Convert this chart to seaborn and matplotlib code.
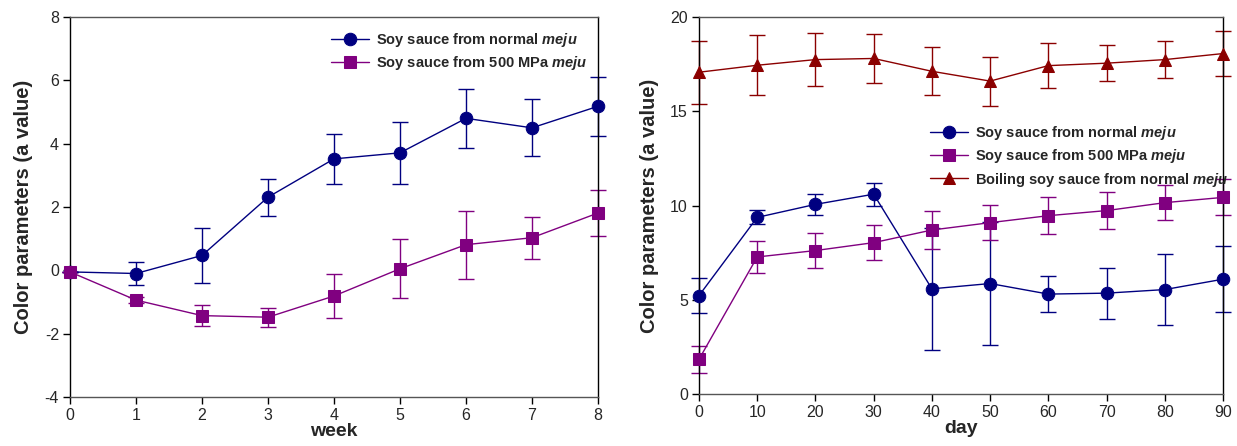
import seaborn as sns
import matplotlib.pyplot as plt
import numpy as np
import pandas as pd

# Soy sauce colour (a value) over fermentation weeks / storage days

weeks = [0, 1, 2, 3, 4, 5, 6, 7, 8]
wk_normal = [-0.05, -0.1, 0.47, 2.31, 3.52, 3.71, 4.8, 4.5, 5.18]
wk_normal_err = [0.0, 0.36, 0.87, 0.58, 0.8, 0.97, 0.94, 0.9, 0.94]
wk_mpa = [-0.05, -0.94, -1.43, -1.48, -0.81, 0.05, 0.81, 1.03, 1.81]
wk_mpa_err = [0.0, 0.1, 0.33, 0.3, 0.71, 0.93, 1.07, 0.66, 0.72]

days = [0, 10, 20, 30, 40, 50, 60, 70, 80, 90]
day_normal = [5.22, 9.37, 10.06, 10.6, 5.58, 5.86, 5.3, 5.35, 5.54, 6.09]
day_normal_err = [0.94, 0.37, 0.55, 0.61, 3.25, 3.28, 0.97, 1.35, 1.87, 1.75]
day_mpa = [1.84, 7.27, 7.61, 8.03, 8.7, 9.09, 9.46, 9.73, 10.15, 10.43]
day_mpa_err = [0.72, 0.85, 0.92, 0.92, 1.02, 0.93, 0.98, 0.97, 0.94, 0.95]
day_boil = [17.07, 17.44, 17.74, 17.8, 17.12, 16.6, 17.42, 17.55, 17.74, 18.06]
day_boil_err = [1.66, 1.6, 1.4, 1.28, 1.27, 1.3, 1.18, 0.95, 1.0, 1.19]

lbl_normal = r"Soy sauce from normal $\mathbfit{meju}$"
lbl_mpa = r"Soy sauce from 500 MPa $\mathbfit{meju}$"
lbl_boil = r"Boiling soy sauce from normal $\mathbfit{meju}$"

sns.set_theme(style="white")
plt.rcParams["font.family"] = ["Liberation Sans", "DejaVu Sans"]
plt.rcParams["mathtext.fontset"] = "custom"
plt.rcParams["mathtext.bfit"] = "Liberation Sans:bold:italic"
plt.rcParams["mathtext.it"] = "Liberation Sans:italic"
plt.rcParams["mathtext.rm"] = "Liberation Sans"
plt.rcParams["axes.unicode_minus"] = False

NAVY = "#000080"
PURPLE = "#800080"
DARKRED = "#8b0000"

fig = plt.figure(figsize=(12.37, 4.46), dpi=100)
ax1 = fig.add_axes([70 / 1237, 49 / 446, 528 / 1237, 380 / 446])
ax2 = fig.add_axes([699 / 1237, 52 / 446, 524 / 1237, 377 / 446])

wk_df = pd.DataFrame({"x": weeks, "normal": wk_normal, "mpa": wk_mpa})
day_df = pd.DataFrame({"x": days, "normal": day_normal, "mpa": day_mpa, "boil": day_boil})


def draw(ax, df, col, err, color, marker, label, ms):
    eb = ax.errorbar(df["x"], df[col], yerr=err, fmt="none", ecolor=color,
                     elinewidth=1, capsize=6, capthick=1, zorder=2)
    for part in eb.lines[1] + eb.lines[2]:
        part.set_clip_on(False)
    sns.lineplot(data=df, x="x", y=col, ax=ax, color=color, marker=marker,
                 markersize=ms, markeredgecolor=color, linewidth=1,
                 label=label, zorder=3, clip_on=False)


draw(ax1, wk_df, "normal", wk_normal_err, NAVY, "o", lbl_normal, 9)
draw(ax1, wk_df, "mpa", wk_mpa_err, PURPLE, "s", lbl_mpa, 8)

draw(ax2, day_df, "normal", day_normal_err, NAVY, "o", lbl_normal, 9)
draw(ax2, day_df, "mpa", day_mpa_err, PURPLE, "s", lbl_mpa, 8)
draw(ax2, day_df, "boil", day_boil_err, DARKRED, "^", lbl_boil, 8)

ax1.set(xlim=(0, 8), ylim=(-4, 8), xticks=weeks, yticks=range(-4, 9, 2))
ax2.set(xlim=(0, 90), ylim=(0, 20), xticks=days, yticks=range(0, 21, 5))
ax1.set_xlabel("week", fontsize=14, fontweight="bold", labelpad=0)
ax2.set_xlabel("day", fontsize=14, fontweight="bold", labelpad=0)

for ax in (ax1, ax2):
    ax.set_ylabel("Color parameters (a value)", fontsize=14.5, fontweight="bold", labelpad=8)
    ax.tick_params(axis="both", labelsize=11.5, direction="out", length=5, width=1,
                   color="black", bottom=True, left=True, pad=3)
    for s in ax.spines.values():
        s.set_color("black")
        s.set_linewidth(1)
    ax.spines["bottom"].set_color("#555555")
    ax.spines["top"].set_color("#555555")

leg_kw = dict(frameon=False, prop={"weight": "bold", "size": 10.5},
              handlelength=2.6, handletextpad=0.5, labelspacing=0.35,
              borderaxespad=0.3)
ax1.legend(loc="upper right", bbox_to_anchor=(1.0, 0.99), **leg_kw)
ax2.legend(loc="center right", bbox_to_anchor=(1.03, 0.63), **leg_kw)

fig.savefig("out.png", dpi=100)
